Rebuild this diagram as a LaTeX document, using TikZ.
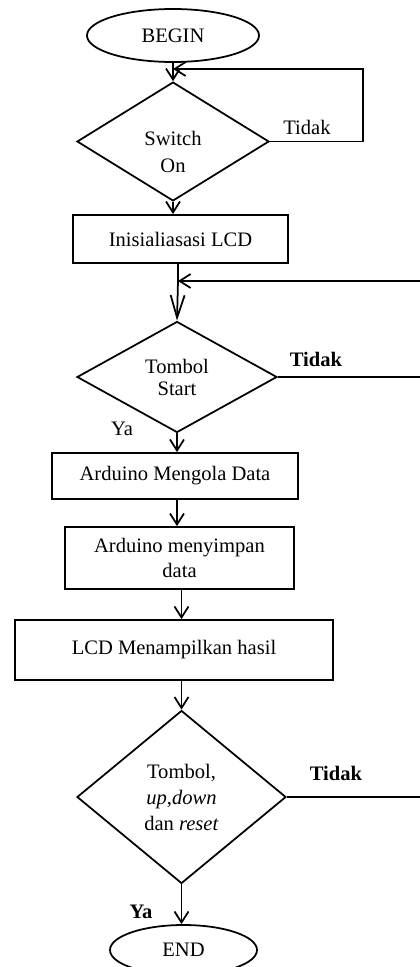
\documentclass[tikz,border=0pt]{standalone}
\usepackage{fontspec}
\setmainfont{Liberation Serif}
\usepackage{tikz}
\usetikzlibrary{arrows.meta,positioning,shapes.geometric,calc}
\definecolor{lineBlack}{HTML}{000000}
\tikzset{
  term/.style={draw=lineBlack, ellipse, line width=1pt, inner sep=0pt,
        align=center, font=\fontsize{11.7}{14.5}\selectfont},
  proc/.style={draw=lineBlack, line width=1pt, inner sep=0pt,
        align=center, font=\fontsize{11.7}{14.5}\selectfont},
  dec/.style={draw=lineBlack, diamond, line width=1pt, inner sep=0pt,
        align=center, font=\fontsize{11.7}{14.5}\selectfont},
  flow/.style={-{Straight Barb[length=2.2mm, width=2.8mm]}, line width=1pt, draw=lineBlack},
  link/.style={line width=1pt, draw=lineBlack},
  lab/.style={font=\fontsize{11.7}{14}\selectfont, inner sep=0pt}
}
\begin{document}
\begin{tikzpicture}
\useasboundingbox (0,0) rectangle (8.4,-19.34);

\node[term, minimum width=3.44cm, minimum height=1.06cm] (begin) at (3.46,-0.71) {BEGIN};
\node[dec, minimum width=3.84cm, minimum height=2.06cm, font=\fontsize{11.7}{15.4}\selectfont]
     (sw) at (3.46,-2.83) {\rule{0pt}{0.69cm}Switch\\On};
\node[proc, minimum width=4.30cm, minimum height=0.96cm] (init) at (3.61,-4.78) {Inisialiasasi LCD};
\node[dec, minimum width=4.00cm, minimum height=2.22cm, font=\fontsize{11.7}{12.5}\selectfont]
     (start) at (3.54,-7.54) {Tombol\\Start};
\node[proc, minimum width=4.92cm, minimum height=0.92cm] (olah) at (3.50,-9.52) {Arduino Mengola Data};
\node[proc, minimum width=4.58cm, minimum height=1.24cm] (simpan) at (3.59,-11.16) {Arduino menyimpan\\data};
\node[proc, minimum width=6.36cm, minimum height=1.20cm] (tampil) at (3.48,-13.00) {LCD Menampilkan hasil};
\node[dec, minimum width=4.18cm, minimum height=3.46cm, font=\fontsize{11.7}{14.8}\selectfont]
     (tombol) at (3.63,-15.94) {Tombol,\\\textit{up},\textit{down}\\dan \textit{reset}};
\node[term, minimum width=2.94cm, minimum height=1.00cm] (end) at (3.67,-19.00) {END};

\coordinate (j1) at (3.46,-1.38);
\coordinate (j2) at (3.56,-5.62);
\coordinate (rbend) at (8.45,-7.54);

\draw[flow] (begin) -- (sw);
\draw[flow] (sw.east) -- ++(1.86,0) |- (j1);
\draw[flow] (sw.south) -- (sw.south |- init.north);
\draw[link] (init.south -| j2) -- (j2);
\draw[-{Straight Barb[length=4.5mm, width=2.8mm]}, line width=1pt] (j2) -- (start.north);
\draw[flow] (start.east) -- (rbend) |- (j2);
\draw[flow] (start.south) -- (start.south |- olah.north);
\draw[flow] (olah.south -| start.south) -- (simpan.north -| start.south);
\draw[flow] (simpan.south -| tombol.north) -- (tampil.north -| tombol.north);
\draw[flow] (tampil.south -| tombol.north) -- (tombol.north);
\draw[link] (tombol.east) -| (rbend);
\draw[flow] (tombol.south) -- (tombol.south |- end.north);

\node[lab] (t1) at (6.14,-2.54) {Tidak};
\node[lab, font=\fontsize{11.7}{14}\selectfont\bfseries] (t2) at (6.32,-7.18) {Tidak};
\node[lab] (y1) at (2.44,-8.58) {Ya};
\node[lab, font=\fontsize{11.7}{14}\selectfont\bfseries] (t3) at (6.72,-15.46) {Tidak};
\node[lab, font=\fontsize{11.7}{14}\selectfont\bfseries] (y2) at (2.82,-18.24) {Ya};
\end{tikzpicture}
\end{document}
